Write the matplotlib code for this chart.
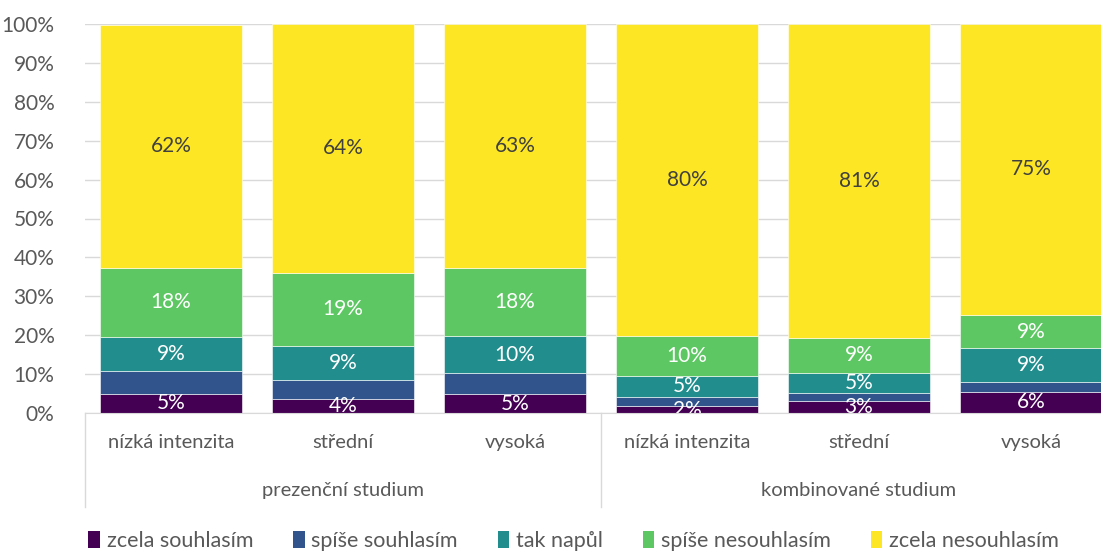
import matplotlib
matplotlib.use("Agg")
from matplotlib import pyplot as plt
from matplotlib.patches import Patch
import numpy as np

plt.rcParams['font.family'] = ['Lato', 'DejaVu Sans']

# data (percent of respondents)
categories = ['nízká intenzita', 'střední', 'vysoká',
              'nízká intenzita', 'střední', 'vysoká']
groups = ['prezenční studium', 'kombinované studium']
series_names = ['zcela souhlasím', 'spíše souhlasím', 'tak napůl',
                'spíše nesouhlasím', 'zcela nesouhlasím']
zcela_souhlasim = [5.0, 3.7, 4.8, 1.7, 3.2, 5.5]
spise_souhlasim = [5.7, 4.7, 5.4, 2.5, 2.0, 2.4]
tak_napul = [8.8, 8.9, 9.6, 5.3, 5.2, 8.7]
spise_nesouhlasim = [17.9, 18.7, 17.6, 10.3, 9.0, 8.6]
zcela_nesouhlasim = [62.4, 64.0, 62.6, 80.2, 80.6, 74.8]
# which series get a value label
show_label = [True, False, True, True, True]

colors = ['#440154', '#31548c', '#218e8d', '#5dc863', '#fde725']
label_colors = ['white', 'white', 'white', 'white', '#404040']

series = [zcela_souhlasim, spise_souhlasim, tak_napul,
          spise_nesouhlasim, zcela_nesouhlasim]

fig = plt.figure(figsize=(11.01, 5.52), dpi=100)
ax = fig.add_axes([85 / 1101, 139 / 552, 1032 / 1101, 389 / 552])

x = np.arange(len(categories))
bottom = np.zeros(len(categories))
for s, vals in enumerate(series):
    vals = np.array(vals)
    ax.bar(x, vals, bottom=bottom, width=0.83, color=colors[s],
           edgecolor='white', linewidth=0.4, zorder=2)
    if show_label[s]:
        for i in range(len(x)):
            ax.text(x[i], bottom[i] + vals[i] / 2, '%d%%' % round(vals[i]),
                    ha='center', va='center', fontsize=15,
                    color=label_colors[s], zorder=3, clip_on=True)
    bottom += vals

ax.set_xlim(-0.5, 5.5)
ax.set_ylim(0, 100)
ax.set_yticks(np.arange(0, 101, 10))
ax.set_yticklabels(['%d%%' % v for v in range(0, 101, 10)])
ax.yaxis.grid(True, color='#d9d9d9', linewidth=1, zorder=0)
ax.set_axisbelow(True)
ax.tick_params(axis='y', length=0, labelsize=15, labelcolor='#595959', pad=22)
ax.set_xticks(x)
ax.set_xticklabels(categories)
ax.tick_params(axis='x', length=0, labelsize=14.5, labelcolor='#595959', pad=15)
for side in ['top', 'right', 'left']:
    ax.spines[side].set_visible(False)
ax.spines['bottom'].set_color('#d9d9d9')

# group separators and group labels below the category labels
for xs in [-0.5, 2.5, 5.5]:
    ax.plot([xs, xs], [0, -0.242], color='#d9d9d9', linewidth=1,
            transform=ax.get_xaxis_transform(), clip_on=False)
for g, name in enumerate(groups):
    ax.text(1 + 3 * g, -0.2, name, ha='center', va='center', fontsize=14.5,
            color='#595959', transform=ax.get_xaxis_transform())

handles = [Patch(facecolor=c) for c in colors]
fig.legend(handles, series_names, loc='center', bbox_to_anchor=(0.521, 0.02),
           ncol=5, frameon=False, fontsize=15.5, handlelength=0.55,
           handleheight=0.85, handletextpad=0.3, columnspacing=1.85,
           labelcolor='#595959')

fig.savefig('out.png', dpi=100)
